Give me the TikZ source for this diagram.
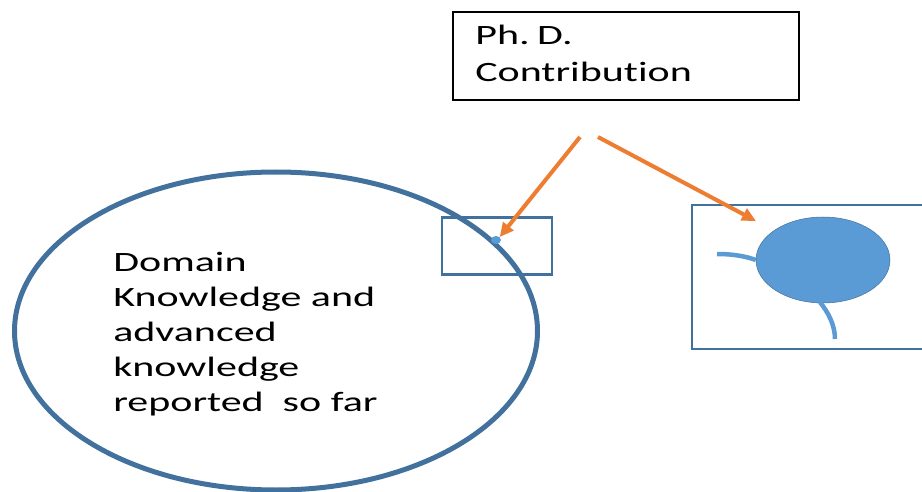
\documentclass[tikz,border=0pt]{standalone}
\usepackage{fontspec}
\setmainfont{Carlito}[Ligatures=NoCommon]
\usetikzlibrary{arrows.meta,shapes.geometric}
\definecolor{darkblue}{HTML}{41719C}
\definecolor{lightblue}{HTML}{5B9BD5}
\definecolor{orangec}{HTML}{ED7D31}
\tikzset{
  txt/.style={inner sep=0pt, align=left, xscale=1.5, anchor=north west,
    font=\fontsize{28}{35}\selectfont},
  oarrow/.style={draw=orangec, line width=4pt, -{Triangle[length=14pt,width=13pt]}},
  bluebox/.style={draw=darkblue, line width=2.5pt, rectangle, inner sep=0pt},
  bluecurve/.style={draw=lightblue, line width=4.5pt}
}
\begin{document}
\begin{tikzpicture}[x=1pt,y=-1pt]
\useasboundingbox (0,0) rectangle (922,492);
\clip (0,0) rectangle (922,492);
% top box
\node[draw=black, line width=2.8pt, minimum width=346pt, minimum height=88pt, inner sep=0pt] (phd) at (626,56) {};
\node[txt, font=\fontsize{28}{37}\selectfont] (phdtext) at (475,25) {Ph.\kern0.18em D.\\Contribution};
% big ellipse
\node[ellipse, draw=darkblue, line width=5pt, minimum width=523pt, minimum height=318pt, inner sep=0pt] (domain) at (276,331) {};
\node[txt] (domaintext) at (113,252) {Domain\\Knowledge and\\advanced\\knowledge\\reported~ so far};
% small box and dot
\node[bluebox, minimum width=110pt, minimum height=57pt] (small) at (497,246) {};
\node[ellipse, fill=lightblue, minimum width=10pt, minimum height=8pt, inner sep=0pt] (dot) at (496,240) {};
% right box
\node[bluebox, minimum width=258pt, minimum height=144pt] (zoombox) at (821,277) {};
\node[ellipse, fill=lightblue, draw=darkblue, line width=0.5pt, minimum width=134pt, minimum height=86pt, inner sep=0pt] (blob) at (823,260) {};
\coordinate (c1) at (717,254);
\coordinate (c2) at (835,339);
\draw[bluecurve] (c1) .. controls (735,254) and (748,257) .. (blob.west);
\draw[bluecurve] (blob.south) ++(-3,-1) .. controls (828,312) and (835,325) .. (c2);
% arrows
\coordinate (a1) at (580,137);
\coordinate (a2) at (598,137);
\coordinate (a2e) at (756,221);
\draw[oarrow] (a1) -- (dot.north east);
\draw[oarrow] (a2) -- (a2e);
\end{tikzpicture}
\end{document}
